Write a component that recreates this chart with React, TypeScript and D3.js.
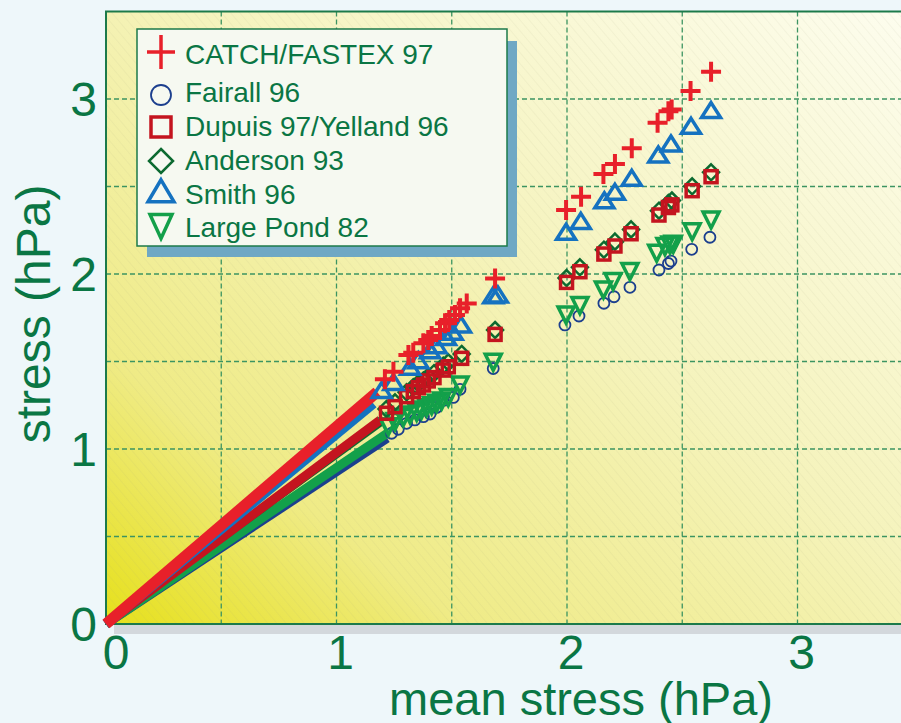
import React from "react";
import * as d3 from "d3";

// ---------- data ----------
const xTicks = [0, 1, 2, 3];
const yTicks = [0, 1, 2, 3];
const gridVals = [0.5, 1, 1.5, 2, 2.5, 3];

const legendLabels = [
  "CATCH/FASTEX 97",
  "Fairall 96",
  "Dupuis 97/Yelland 96",
  "Anderson 93",
  "Smith 96",
  "Large Pond 82",
];

const catchX = [1.21, 1.247, 1.312, 1.333, 1.377, 1.398, 1.413, 1.449, 1.471, 1.489, 1.514, 1.536, 1.565, 1.688, 1.996, 2.061, 2.158, 2.208, 2.281, 2.393, 2.44, 2.454, 2.536, 2.625];
const catchY = [1.398, 1.442, 1.537, 1.55, 1.604, 1.623, 1.646, 1.68, 1.718, 1.737, 1.766, 1.804, 1.832, 1.975, 2.366, 2.442, 2.571, 2.629, 2.718, 2.865, 2.93, 2.94, 3.046, 3.156];

const fairallX = [1.239, 1.268, 1.304, 1.34, 1.377, 1.406, 1.434, 1.471, 1.507, 1.536, 1.68, 1.991, 2.052, 2.16, 2.204, 2.273, 2.399, 2.44, 2.451, 2.541, 2.62];
const fairallY = [1.09, 1.113, 1.147, 1.166, 1.185, 1.2, 1.238, 1.28, 1.295, 1.341, 1.46, 1.709, 1.76, 1.833, 1.87, 1.924, 2.023, 2.06, 2.074, 2.141, 2.21];

const dupuisX = [1.217, 1.254, 1.304, 1.333, 1.355, 1.377, 1.398, 1.423, 1.463, 1.485, 1.543, 1.688, 1.998, 2.056, 2.16, 2.208, 2.278, 2.399, 2.44, 2.455, 2.543, 2.625];
const dupuisY = [1.204, 1.242, 1.299, 1.328, 1.35, 1.366, 1.389, 1.408, 1.451, 1.47, 1.518, 1.655, 1.952, 2.013, 2.114, 2.16, 2.23, 2.337, 2.38, 2.395, 2.476, 2.556];

const andersonX = [1.217, 1.254, 1.304, 1.333, 1.355, 1.377, 1.398, 1.423, 1.463, 1.485, 1.543, 1.688, 1.998, 2.056, 2.16, 2.208, 2.278, 2.399, 2.44, 2.455, 2.543, 2.625];
const andersonY = [1.229, 1.267, 1.324, 1.353, 1.375, 1.391, 1.414, 1.433, 1.476, 1.495, 1.543, 1.68, 1.977, 2.038, 2.139, 2.185, 2.255, 2.362, 2.405, 2.42, 2.501, 2.581];

const smithX = [1.196, 1.247, 1.319, 1.355, 1.406, 1.434, 1.475, 1.504, 1.54, 1.68, 1.70, 1.996, 2.06, 2.162, 2.208, 2.281, 2.396, 2.451, 2.538, 2.625];
const smithY = [1.328, 1.375, 1.461, 1.499, 1.556, 1.585, 1.632, 1.661, 1.703, 1.87, 1.874, 2.233, 2.295, 2.413, 2.461, 2.541, 2.674, 2.737, 2.838, 2.928];

const pondX = [1.225, 1.254, 1.29, 1.319, 1.348, 1.369, 1.391, 1.413, 1.434, 1.456, 1.485, 1.536, 1.68, 1.996, 2.056, 2.158, 2.2, 2.273, 2.389, 2.425, 2.447, 2.461, 2.543, 2.625];
const pondY = [1.137, 1.166, 1.189, 1.204, 1.219, 1.232, 1.246, 1.257, 1.27, 1.284, 1.303, 1.375, 1.505, 1.775, 1.829, 1.918, 1.966, 2.023, 2.128, 2.166, 2.175, 2.179, 2.251, 2.318];

// low-stress end of each series (dense points merge into a band from the origin)
const bandEndX = [1.22, 1.22, 1.2, 1.19, 1.16, 1.176];
const bandEndY = [1.062, 1.09, 1.15, 1.166, 1.26, 1.326];

// ---------- style ----------
const TEXT = "#0a7644";
const GRID = "#3c9462";
const RED = "#e8202a";
const NAVY = "#1c3f8e";
const DRED = "#c4141f";
const DGREEN = "#0c6a30";
const BLUE = "#1572c0";
const GREEN = "#13a04a";
const FONT = "'Liberation Sans', Arial, Helvetica, sans-serif";

const bandColors = [NAVY, GREEN, DGREEN, DRED, BLUE, RED];
const bandWidths = [9, 9, 5, 9, 10, 11];

const W = 901;
const H = 723;
const x = d3.scaleLinear().domain([0, 3.5]).range([106, 106 + 3.5 * 230.5]);
const y = d3.scaleLinear().domain([0, 3.5]).range([624, 624 - 3.5 * 175]);

const triUp = (w: number, h: number) =>
  `M0,${-h * 0.6}L${w / 2},${h * 0.4}L${-w / 2},${h * 0.4}Z`;
const triDown = (w: number, h: number) =>
  `M0,${h * 0.6}L${w / 2},${-h * 0.4}L${-w / 2},${-h * 0.4}Z`;
const plus = (w: number, h: number) => `M${-w / 2},0H${w / 2}M0,${-h / 2}V${h / 2}`;
const diamond = (s: number) => `M0,${-s}L${s},0L0,${s}L${-s},0Z`;

type MK = "plus" | "circle" | "square" | "diamond" | "triUp" | "triDown";

function Marker({ t, cx, cy, big }: { t: MK; cx: number; cy: number; big?: boolean }) {
  const tr = `translate(${cx},${cy})`;
  if (t === "plus")
    return <path transform={tr} d={big ? plus(28, 34) : plus(20, 20)} stroke={RED} strokeWidth={big ? 3.5 : 4} fill="none" />;
  if (t === "circle")
    return <circle transform={tr} r={big ? 10 : 5.5} stroke={NAVY} strokeWidth={1.8} fill="none" />;
  if (t === "square") {
    const s = big ? 20 : 12;
    return <rect transform={tr} x={-s / 2} y={-s / 2} width={s} height={s} stroke={DRED} strokeWidth={3.5} fill="none" />;
  }
  if (t === "diamond")
    return <path transform={tr} d={diamond(big ? 12 : 8)} stroke={DGREEN} strokeWidth={2.5} fill="none" />;
  if (t === "triUp")
    return <path transform={tr} d={big ? triUp(26, 22) : triUp(19, 15)} stroke={BLUE} strokeWidth={3.5} fill="none" strokeLinejoin="miter" />;
  return <path transform={tr} d={big ? triDown(22, 24) : triDown(16, 16)} stroke={GREEN} strokeWidth={3.5} fill="none" />;
}

const series: { xs: number[]; ys: number[]; t: MK }[] = [
  { xs: fairallX, ys: fairallY, t: "circle" },
  { xs: pondX, ys: pondY, t: "triDown" },
  { xs: andersonX, ys: andersonY, t: "diamond" },
  { xs: dupuisX, ys: dupuisY, t: "square" },
  { xs: smithX, ys: smithY, t: "triUp" },
  { xs: catchX, ys: catchY, t: "plus" },
];
const legendMarkers: MK[] = ["plus", "circle", "square", "diamond", "triUp", "triDown"];
const legendBaselines = [64, 102, 136, 170, 204, 237];
const legendMarkerY = [52, 95, 127, 161, 193, 224];

export default function App() {
  const x0 = x(0);
  const y0 = y(0);
  const yTop = y(3.5);
  const xRight = x(3.5);
  const line = d3.line<[number, number]>().x((d) => x(d[0])).y((d) => y(d[1]));
  return (
    <svg width={W} height={H} style={{ position: "absolute", left: 0, top: 0 }} fontFamily={FONT}>
      <defs>
        <linearGradient id="bg" x1="0" y1="1" x2="1" y2="0">
          <stop offset="0" stopColor="#e6e01a" />
          <stop offset="0.22" stopColor="#efeb86" />
          <stop offset="0.55" stopColor="#f5f3bc" />
          <stop offset="1" stopColor="#fdfdef" />
        </linearGradient>
        <pattern id="hatch" width="7" height="7" patternUnits="userSpaceOnUse" patternTransform="rotate(-40)">
          <line x1="0" y1="0" x2="0" y2="7" stroke="#9a9a80" strokeOpacity="0.16" strokeWidth="1" />
        </pattern>
        <clipPath id="plotClip">
          <rect x={x0} y={yTop} width={xRight - x0} height={y0 - yTop} />
        </clipPath>
      </defs>
      <rect x={0} y={0} width={W} height={H} fill="#eef7fa" />
      {/* shadow band under axis */}
      <rect x={x0 + 8} y={y0} width={W - x0} height={10} fill="#d3d8dc" />
      {/* plot background */}
      <rect x={x0} y={yTop} width={xRight - x0} height={y0 - yTop} fill="url(#bg)" />
      <rect x={x0} y={yTop} width={xRight - x0} height={y0 - yTop} fill="url(#hatch)" />
      {/* grid */}
      <g stroke={GRID} strokeWidth={1.3} strokeDasharray="5,3">
        {gridVals.map((v) => (
          <line key={"gx" + v} x1={x(v)} x2={x(v)} y1={yTop} y2={y0} />
        ))}
        {gridVals.map((v) => (
          <line key={"gy" + v} x1={x0} x2={xRight} y1={y(v)} y2={y(v)} />
        ))}
      </g>
      {/* border */}
      <rect x={x0} y={yTop} width={xRight - x0} height={y0 - yTop} fill="none" stroke="#1c7a4a" strokeWidth={2} />
      {/* bands from origin */}
      <g>
        {bandEndX.map((ex, i) => (
          <path
            key={"band" + i}
            d={line([[0, 0], [ex, bandEndY[i]]]) || ""}
            stroke={bandColors[i]}
            strokeWidth={bandWidths[i]}
            fill="none"
            strokeLinecap="butt"
          />
        ))}
      </g>
      {/* markers */}
      <g clipPath="url(#plotClip)">
        {series.map((s, si) =>
          s.xs.map((xv, i) => <Marker key={si + "-" + i} t={s.t} cx={x(xv)} cy={y(s.ys[i])} />)
        )}
      </g>
      {/* legend */}
      <rect x={147} y={41} width={370} height={216} fill="#6fa8c4" />
      <rect x={137} y={29} width={370} height={217} fill="#f6f9f1" stroke="#1c7a4a" strokeWidth={1.5} />
      {legendLabels.map((lab, i) => (
        <g key={"lg" + i}>
          <Marker t={legendMarkers[i]} cx={161} cy={legendMarkerY[i]} big />
          <text x={185} y={legendBaselines[i]} fontSize={28} fill={TEXT}>
            {lab}
          </text>
        </g>
      ))}
      {/* tick labels */}
      {yTicks.map((v) => (
        <text key={"yt" + v} x={97} y={y(v) + 17} fontSize={48} fill={TEXT} textAnchor="end">
          {v}
        </text>
      ))}
      {xTicks.map((v) => (
        <text key={"xt" + v} x={x(v) + (v === 0 ? 10 : 4)} y={669} fontSize={48} fill={TEXT} textAnchor="middle">
          {v}
        </text>
      ))}
      {/* axis titles */}
      <text x={581} y={715} fontSize={47} fill={TEXT} textAnchor="middle">
        mean stress (hPa)
      </text>
      <text transform="translate(50,314) rotate(-90)" fontSize={48} fill={TEXT} textAnchor="middle">
        stress (hPa)
      </text>
    </svg>
  );
}
